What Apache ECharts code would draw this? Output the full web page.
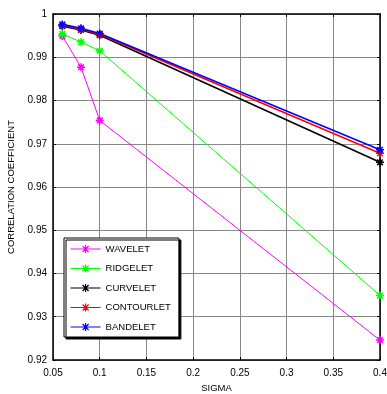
<!DOCTYPE html>
<html>
<head>
<meta charset="utf-8">
<script src="https://cdn.jsdelivr.net/npm/echarts@6/dist/echarts.min.js"></script>
<style>
  html, body { margin: 0; padding: 0; background: #fff; }
  #chart { width: 387px; height: 394px; }
</style>
</head>
<body>
<div id="chart"></div>
<script>
// sigma values and correlation coefficient per transform
var sigma = [0.06, 0.08, 0.1, 0.4];
var wavelet = [0.9949, 0.9877, 0.9754, 0.9246];
var ridgelet = [0.9954, 0.9935, 0.9915, 0.9349];
var curvelet = [0.9972, 0.9963, 0.9951, 0.9657];
var contourlet = [0.9974, 0.9965, 0.9953, 0.9678];
var bandelet = [0.9976, 0.9967, 0.9955, 0.9686];

var names = ["WAVELET", "RIDGELET", "CURVELET", "CONTOURLET", "BANDELET"];
var colors = ["#ff00ff", "#00ff00", "#000000", "#ff0000", "#0000ff"];
var values = [wavelet, ridgelet, curvelet, contourlet, bandelet];

// asterisk marker like matlab '*'
var star = "path://M5,0L5,10M0,5L10,5M1.5,1.5L8.5,8.5M8.5,1.5L1.5,8.5";
// legend sample: line with the asterisk in the middle
var legendIcon = "path://M0,5L30,5M15,1L15,9M11,5L19,5M12,2L18,8M18,2L12,8";

var font = "Liberation Sans, Arial, sans-serif";

var series = [];
var legendData = [];
for (var i = 0; i < names.length; i++) {
  var pts = [];
  for (var j = 0; j < sigma.length; j++) pts.push([sigma[j], values[i][j]]);
  series.push({
    name: names[i],
    type: "line",
    data: pts,
    symbol: star,
    symbolSize: 8,
    showAllSymbol: true,
    lineStyle: { color: colors[i], width: i >= 2 ? 1.6 : 1 },
    itemStyle: { color: "#fff", borderColor: colors[i], borderWidth: 1.5 },
    animation: false
  });
  legendData.push({ name: names[i], icon: legendIcon, itemStyle: { borderWidth: 1.2 } });
}

var chart = echarts.init(document.getElementById("chart"));
chart.setOption({
  animation: false,
  grid: { left: 53, right: 7, top: 14, bottom: 34, outerBoundsMode: "none" },
  legend: {
    orient: "vertical",
    left: 64,
    top: 238,
    itemWidth: 30,
    itemHeight: 9,
    itemGap: 9.5,
    padding: [6, 8, 5, 6],
    borderColor: "#000",
    borderWidth: 1,
    backgroundColor: "#fff",
    shadowColor: "#000",
    shadowBlur: 0,
    shadowOffsetX: 2,
    shadowOffsetY: 2,
    textStyle: { fontFamily: font, fontSize: 9.5, color: "#000" },
    data: legendData
  },
  xAxis: [{
    type: "value",
    min: 0.05,
    max: 0.4,
    interval: 0.05,
    name: "SIGMA",
    nameLocation: "middle",
    nameGap: 23,
    nameTextStyle: { fontFamily: font, fontSize: 9.5, color: "#000" },
    axisLine: { lineStyle: { color: "#000", width: 1.5 } },
    axisTick: { inside: true, length: 3, lineStyle: { color: "#000" } },
    axisLabel: { fontFamily: font, fontSize: 10, color: "#000", margin: 8 },
    splitLine: { show: true, lineStyle: { color: "#888", width: 1 } }
  }, {
    type: "value",
    position: "top",
    min: 0.05,
    max: 0.4,
    interval: 0.05,
    axisLine: { lineStyle: { color: "#000", width: 1.5 } },
    axisTick: { inside: true, length: 3, lineStyle: { color: "#000" } },
    axisLabel: { show: false },
    splitLine: { show: false }
  }],
  yAxis: [{
    type: "value",
    min: 0.92,
    max: 1,
    interval: 0.01,
    name: "CORRELATION COEFFICIENT",
    nameLocation: "middle",
    nameGap: 27,
    nameTextStyle: { fontFamily: font, fontSize: 9.5, color: "#000" },
    axisLine: { lineStyle: { color: "#000", width: 1.5 } },
    axisTick: { inside: true, length: 3, lineStyle: { color: "#000" } },
    axisLabel: { fontFamily: font, fontSize: 10, color: "#000", margin: 6 },
    splitLine: { show: true, lineStyle: { color: "#888", width: 1 } }
  }, {
    type: "value",
    position: "right",
    min: 0.92,
    max: 1,
    interval: 0.01,
    axisLine: { lineStyle: { color: "#000", width: 1.5 } },
    axisTick: { inside: true, length: 3, lineStyle: { color: "#000" } },
    axisLabel: { show: false },
    splitLine: { show: false }
  }],
  series: series
});
</script>
</body>
</html>
